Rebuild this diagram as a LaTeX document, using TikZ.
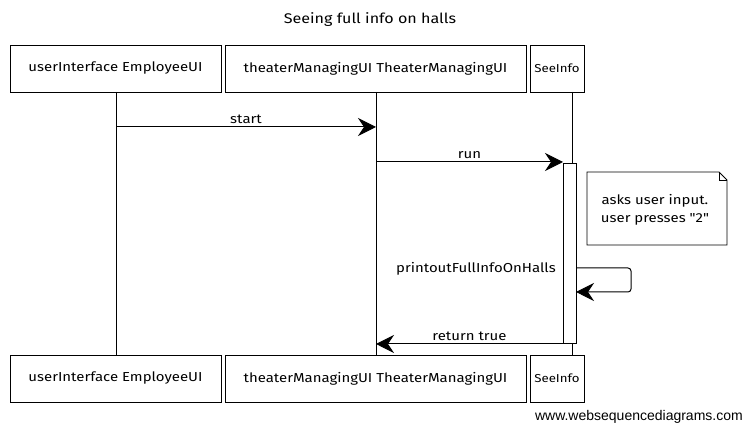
\documentclass[tikz,border=0pt]{standalone}
\usepackage{fontspec}
\setmainfont{Liberation Sans}
\newfontfamily\handfont[FakeStretch=1.15]{Fira Sans}
\usetikzlibrary{arrows.meta,shapes.misc}
\begin{document}
\begin{tikzpicture}[x=1pt,y=-1pt,
  every node/.style={font=\handfont\fontsize{13}{15}\selectfont},
  actor/.style={draw,line width=0.8pt,minimum height=47pt,inner sep=0pt},
  small/.style={font=\handfont\fontsize{11.5}{14}\selectfont},
  life/.style={line width=0.6pt},
  msg/.style={line width=1pt,-{Stealth[length=18pt,width=18pt,inset=6pt]}},
  lbl/.style={inner sep=1pt}]
\useasboundingbox (0,0) rectangle (745,427);
\node (title) at (370,20) {\fontsize{14}{16}\selectfont Seeing full info on halls};
% top actors
\node[actor,minimum width=211pt] (a1) at (115.5,68.5) {userInterface EmployeeUI};
\node[actor,minimum width=301pt] (a2) at (375.5,68.5) {theaterManagingUI TheaterManagingUI};
\node[actor,small,minimum width=54pt] (a3) at (557,68.5) {SeeInfo};
% bottom actors
\node[actor,minimum width=211pt] (b1) at (115.5,378.5) {userInterface EmployeeUI};
\node[actor,minimum width=301pt] (b2) at (375.5,378.5) {theaterManagingUI TheaterManagingUI};
\node[actor,small,minimum width=54pt] (b3) at (557,378.5) {SeeInfo};
% lifelines
\coordinate (l1t) at (116,92); \coordinate (l1b) at (116,355);
\coordinate (l2t) at (376,92); \coordinate (l2b) at (376,355);
\coordinate (l3t) at (572,92); \coordinate (l3b) at (572,355);
\draw[life] (l1t) -- (l1b);
\draw[life] (l2t) -- (l2b);
\draw[life] (l3t) -- (l3b);
% activation
\node[draw,fill=white,line width=0.8pt,minimum width=13pt,minimum height=180pt,inner sep=0pt] (act) at (569.5,253) {};
% messages
\coordinate (s1) at (116,127); \coordinate (s2) at (376,127);
\draw[msg] (s1) -- node[lbl,above=2pt] {start} (s2);
\coordinate (r1) at (376,162); \coordinate (r2) at (563,162);
\draw[msg] (r1) -- node[lbl,above=2pt] {run} (r2);
\coordinate (p1) at (576,268); \coordinate (p2) at (576,292);
\draw[msg,rounded corners=3pt] (p1) -- (631,268) -- (631,292) -- (p2);
\node[lbl] (plbl) at (476,269) {printoutFullInfoOnHalls};
\coordinate (t1) at (563,344); \coordinate (t2) at (376,344);
\draw[msg] (t1) -- node[lbl,above=2pt] {return true} (t2);
% note
\draw[line width=0.8pt] (587,172) -- (719,172) -- (727,180) -- (727,245) -- (587,245) -- cycle;
\draw[line width=0.6pt] (719,172) -- (719,180) -- (727,180);
\node[align=center] (note) at (655,210) {asks user input.\\[3pt] user presses "2"};
% watermark
\node[anchor=east,inner sep=0pt,font=\fontsize{14}{16}\selectfont] (wm) at (743,417) {www.websequencediagrams.com};
\end{tikzpicture}
\end{document}
